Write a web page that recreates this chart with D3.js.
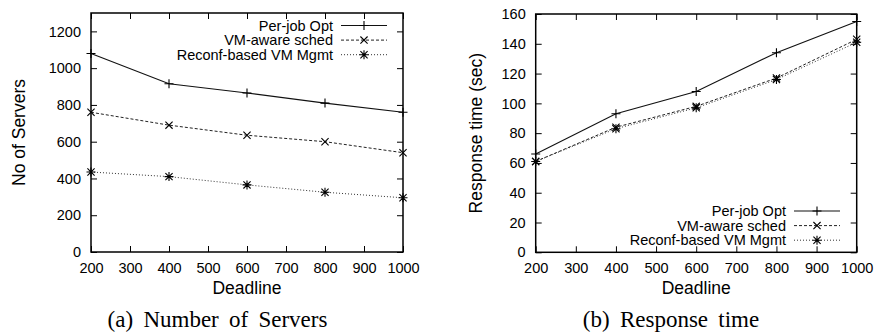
<!DOCTYPE html>
<html>
<head>
<meta charset="utf-8">
<script src="https://cdn.jsdelivr.net/npm/d3@7"></script>
<style>
  html, body { margin: 0; padding: 0; background: #fff; }
  svg { display: block; }
  text { font-family: "Liberation Sans", Arial, Helvetica, sans-serif; fill: #000; }
  .cap { font-family: "Liberation Serif", "Times New Roman", serif; }
</style>
</head>
<body>
<svg id="chart" width="877" height="334"></svg>
<script>
// ---- data ----
const deadlines = [200, 400, 600, 800, 1000];
const xTicks = [200, 300, 400, 500, 600, 700, 800, 900, 1000];
const seriesNames = ["Per-job Opt", "VM-aware sched", "Reconf-based VM Mgmt"];

const serversPerJob  = [1080, 915, 865, 810, 760];
const serversVMAware = [760, 690, 635, 600, 540];
const serversReconf  = [435, 410, 365, 325, 295];
const serversTicks = [0, 200, 400, 600, 800, 1000, 1200];

const respPerJob  = [66, 93, 108, 134, 155];
const respVMAware = [61, 84, 98, 117, 143];
const respReconf  = [61, 83, 97, 116, 141];
const respTicks = [0, 20, 40, 60, 80, 100, 120, 140, 160];

// ---- styles per series ----
const styles = [
  { marker: "plus",  dash: null,  stroke: "#111", width: 1.1 },
  { marker: "cross", dash: "3,2", stroke: "#222", width: 1.0 },
  { marker: "star",  dash: "1,2", stroke: "#333", width: 1.0 }
];

const svg = d3.select("#chart");
svg.append("rect").attr("width", 877).attr("height", 334).attr("fill", "#fff");

function markerPath(type, x, y, s) {
  const p = d3.path();
  if (type === "plus" || type === "star") {
    p.moveTo(x - s, y); p.lineTo(x + s, y);
    p.moveTo(x, y - s); p.lineTo(x, y + s);
  }
  if (type === "cross" || type === "star") {
    const t = s * 0.8;
    p.moveTo(x - t, y - t); p.lineTo(x + t, y + t);
    p.moveTo(x - t, y + t); p.lineTo(x + t, y - t);
  }
  return p.toString();
}

const fmt = d3.format("d");

function drawPanel(cfg) {
  const { left, right, top, bottom, yMax, yTicks, series, yTitle, yTitleX,
          legendX, legendY, caption, captionX } = cfg;
  const x = d3.scaleLinear().domain([200, 1000]).range([left, right]);
  const y = d3.scaleLinear().domain([0, yMax]).range([bottom, top]);
  const g = svg.append("g");

  // ticks (inside, mirrored)
  g.append("g").attr("transform", `translate(0,${bottom})`)
    .call(d3.axisBottom(x).tickValues(xTicks).tickFormat(fmt).tickSizeInner(-6).tickSizeOuter(0).tickPadding(10.5));
  g.append("g").attr("transform", `translate(0,${top})`)
    .call(d3.axisTop(x).tickValues(xTicks).tickSizeInner(-6).tickSizeOuter(0).tickFormat(""));
  g.append("g").attr("transform", `translate(${left},0)`)
    .call(d3.axisLeft(y).tickValues(yTicks).tickFormat(fmt).tickSizeInner(-6).tickSizeOuter(0).tickPadding(10));
  g.append("g").attr("transform", `translate(${right},0)`)
    .call(d3.axisRight(y).tickValues(yTicks).tickSizeInner(-6).tickSizeOuter(0).tickFormat(""));
  g.selectAll(".domain").remove();
  g.selectAll(".tick line").attr("stroke", "#000").attr("stroke-width", 1);
  g.selectAll(".tick text").style("font-size", "14.5px").style("font-family", "Liberation Sans, Arial, sans-serif").attr("fill", "#000");

  // frame
  g.append("rect").attr("x", left).attr("y", top)
    .attr("width", right - left).attr("height", bottom - top)
    .attr("fill", "none").attr("stroke", "#000").attr("stroke-width", 1.5);

  // series
  const line = d3.line().x((d, i) => x(deadlines[i])).y(d => y(d));
  series.forEach((vals, k) => {
    const st = styles[k];
    g.append("path").attr("d", line(vals))
      .attr("fill", "none").attr("stroke", st.stroke).attr("stroke-width", st.width)
      .attr("stroke-dasharray", st.dash);
    g.append("path")
      .attr("d", vals.map((v, i) => markerPath(st.marker, x(deadlines[i]), y(v), 4.5)).join(""))
      .attr("fill", "none").attr("stroke", "#000").attr("stroke-width", 1.1);
  });

  // legend
  seriesNames.forEach((name, k) => {
    const st = styles[k];
    const cy = legendY + k * 14.6;
    g.append("text").attr("x", legendX).attr("y", cy + 5)
      .attr("text-anchor", "end").style("font-size", "14.5px").text(name);
    g.append("line").attr("x1", legendX + 8).attr("x2", legendX + 54)
      .attr("y1", cy).attr("y2", cy)
      .attr("stroke", st.stroke).attr("stroke-width", st.width)
      .attr("stroke-dasharray", st.dash);
    g.append("path").attr("d", markerPath(st.marker, legendX + 31, cy, 4.5))
      .attr("fill", "none").attr("stroke", "#000").attr("stroke-width", 1.1);
  });

  // axis titles
  g.append("text").attr("x", (left + right) / 2).attr("y", 294)
    .attr("text-anchor", "middle").style("font-size", "17.5px").text("Deadline");
  g.append("text")
    .attr("transform", `translate(${yTitleX},${(top + bottom) / 2}) rotate(-90)`)
    .attr("text-anchor", "middle").style("font-size", "17.5px").text(yTitle);

  // caption
  g.append("text").attr("class", "cap").attr("x", captionX).attr("y", 327)
    .attr("text-anchor", "middle").style("font-size", "23px").style("word-spacing", "4.5px")
    .text(caption);
}

drawPanel({
  left: 91, right: 403, top: 13, bottom: 252, yMax: 1300, yTicks: serversTicks,
  series: [serversPerJob, serversVMAware, serversReconf],
  yTitle: "No of Servers", yTitleX: 25,
  legendX: 333, legendY: 25.5,
  caption: "(a) Number of Servers", captionX: 217.5
});

drawPanel({
  left: 535.7, right: 856.7, top: 14, bottom: 252.3, yMax: 160, yTicks: respTicks,
  series: [respPerJob, respVMAware, respReconf],
  yTitle: "Response time (sec)", yTitleX: 482,
  legendX: 786, legendY: 211,
  caption: "(b) Response time", captionX: 671
});
</script>
</body>
</html>
